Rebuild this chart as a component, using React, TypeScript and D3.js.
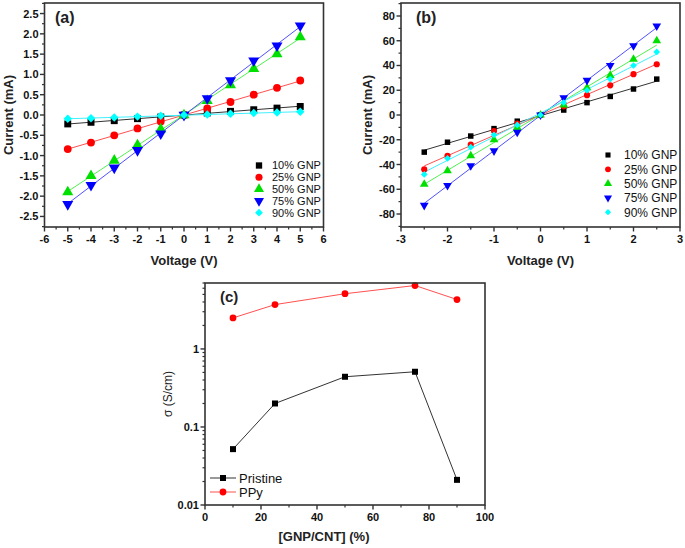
import React from "react";
import * as d3 from "d3";

// panel (a): I-V, pristine
const voltA = [-5, -4, -3, -2, -1, 0, 1, 2, 3, 4, 5];
const a10 = [-0.22, -0.18, -0.14, -0.09, -0.05, 0, 0.05, 0.09, 0.13, 0.17, 0.21];
const a25 = [-0.84, -0.68, -0.5, -0.33, -0.16, 0, 0.16, 0.32, 0.5, 0.67, 0.85];
const a50 = [-1.9, -1.5, -1.12, -0.74, -0.35, 0, 0.35, 0.74, 1.14, 1.5, 1.92];
const a75 = [-2.2, -1.73, -1.3, -0.87, -0.46, 0, 0.41, 0.85, 1.34, 1.71, 2.2];
const a90 = [-0.09, -0.08, -0.06, -0.04, -0.02, 0, 0.01, 0.03, 0.05, 0.06, 0.08];

// panel (b): I-V, PPy coated
const voltB = [-2.5, -2, -1.5, -1, -0.5, 0, 0.5, 1, 1.5, 2, 2.5];
const b10 = [-30, -22, -17, -11, -5, 0, 4, 10, 15, 21, 29];
const b25 = [-44, -33, -24, -13, -7, 0, 7, 16, 24, 33, 41];
const b50 = [-56, -45, -33, -20, -10, 0, 8, 22, 32, 45, 60];
const b75 = [-73, -57, -41, -29, -14, 0, 14, 28, 40, 56, 72];
const b90 = [-48, -35, -26, -16, -8, 0, 10, 20, 29, 40, 51];

const seriesNames = ["10% GNP", "25% GNP", "50% GNP", "75% GNP", "90% GNP"];
const seriesColors = ["#000000", "#ff0000", "#00e000", "#0000ff", "#00ffff"];
const lineColors = ["#333333", "#ff5050", "#50f050", "#5050ff", "#40f0ff"];

// panel (c): conductivity
const ratio = [10, 25, 50, 75, 90];
const pristine = [0.052, 0.2, 0.44, 0.51, 0.021];
const ppy = [2.5, 3.7, 5.1, 6.5, 4.3];

const xTicksA = d3.range(-6, 7, 1);
const yTicksA = [-2.5, -2, -1.5, -1, -0.5, 0, 0.5, 1, 1.5, 2, 2.5];
const xTicksB = [-3, -2, -1, 0, 1, 2, 3];
const yTicksB = [-80, -60, -40, -20, 0, 20, 40, 60, 80];
const xTicksC = [0, 20, 40, 60, 80, 100];
const yTicksC = [0.01, 0.1, 1];

const FONT = "'Liberation Sans', Arial, sans-serif";
const FRAME = "#333";

const shapes = ["square", "circle", "up", "down", "diamond"];

function Marker({ shape, x, y, size, color }: any) {
  let sym: any = d3.symbolSquare;
  let rot = 0;
  if (shape === "circle") sym = d3.symbolCircle;
  if (shape === "up") sym = d3.symbolTriangle;
  if (shape === "down") { sym = d3.symbolTriangle; rot = 180; }
  if (shape === "diamond") { sym = d3.symbolSquare; rot = 45; }
  const s = shape === "up" || shape === "down" ? size * 1.1 : shape === "diamond" ? size * 0.75 : size;
  const path = d3.symbol().type(sym).size(s)() as string;
  return <path d={path} fill={color} transform={`translate(${x},${y}) rotate(${rot})`} />;
}

function fit(xs: number[], ys: number[]) {
  const mx = d3.mean(xs) as number;
  const my = d3.mean(ys) as number;
  const num = d3.sum(xs, (v, i) => (v - mx) * (ys[i] - my));
  const den = d3.sum(xs, (v) => (v - mx) * (v - mx));
  const k = num / den;
  return (v: number) => my + k * (v - mx);
}

function Frame({ x0, x1, y0, y1 }: any) {
  return <rect x={x0} y={y0} width={x1 - x0} height={y1 - y0} fill="none" stroke={FRAME} strokeWidth={1.6} />;
}

function LinearAxes({ x, y, xt, yt, xMinor, yMinor, fmtY, fmtX }: any) {
  const [x0, x1] = x.range();
  const [y1, y0] = y.range();
  return (
    <g fontFamily={FONT} fontWeight="bold" fontSize={11} fill="#111">
      {xMinor.map((v: number) => (
        <line key={"xm" + v} x1={x(v)} x2={x(v)} y1={y1} y2={y1 + 2.5} stroke={FRAME} strokeWidth={1.2} />
      ))}
      {xt.map((v: number) => (
        <g key={"x" + v}>
          <line x1={x(v)} x2={x(v)} y1={y1} y2={y1 + 4.5} stroke={FRAME} strokeWidth={1.4} />
          <text x={x(v)} y={y1 + 16} textAnchor="middle">{fmtX(v)}</text>
        </g>
      ))}
      {yMinor.map((v: number) => (
        <line key={"ym" + v} x1={x0} x2={x0 - 2.5} y1={y(v)} y2={y(v)} stroke={FRAME} strokeWidth={1.2} />
      ))}
      {yt.map((v: number) => (
        <g key={"y" + v}>
          <line x1={x0} x2={x0 - 4.5} y1={y(v)} y2={y(v)} stroke={FRAME} strokeWidth={1.4} />
          <text x={x0 - 6} y={y(v) + 4} textAnchor="end">{fmtY(v)}</text>
        </g>
      ))}
      <Frame x0={x0} x1={x1} y0={y0} y1={y1} />
    </g>
  );
}

function IVPanel({ x, y, volt, data, size, legend, label, labelPos, xt, yt, xMinor, yMinor, fmtY, yTitleX }: any) {
  const [x0, x1] = x.range();
  const [y1, y0] = y.range();
  return (
    <g>
      {data.map((ys: number[], i: number) => {
        const f = fit(volt, ys);
        const a = volt[0];
        const b = volt[volt.length - 1];
        return (
          <line key={"l" + i} x1={x(a)} y1={y(f(a))} x2={x(b)} y2={y(f(b))} stroke={lineColors[i]} strokeWidth={1} />
        );
      })}
      {data.map((ys: number[], i: number) =>
        ys.map((v, j) => (
          <Marker key={i + "-" + j} shape={shapes[i]} x={x(volt[j])} y={y(v)} size={size} color={seriesColors[i]} />
        ))
      )}
      <LinearAxes x={x} y={y} xt={xt} yt={yt} xMinor={xMinor} yMinor={yMinor} fmtY={fmtY} fmtX={(v: number) => String(v)} />
      <text x={labelPos[0]} y={labelPos[1]} fontFamily={FONT} fontWeight="bold" fontSize={16} fill="#222">{label}</text>
      <text x={(x0 + x1) / 2} y={265} textAnchor="middle" fontFamily={FONT} fontWeight="bold" fontSize={13} fill="#222">Voltage (V)</text>
      <text transform={`translate(${yTitleX},${(y0 + y1) / 2}) rotate(-90)`} textAnchor="middle" fontFamily={FONT} fontWeight="bold" fontSize={13} fill="#222">Current (mA)</text>
      <g fontFamily={FONT} fontSize={legend.fs} fill="#111">
        {seriesNames.map((n, i) => (
          <g key={n}>
            <Marker shape={shapes[i]} x={legend.mx} y={legend.y + i * legend.dy} size={legend.ms} color={seriesColors[i]} />
            <text x={legend.tx} y={legend.y + i * legend.dy + legend.fs * 0.36}>{n}</text>
          </g>
        ))}
      </g>
    </g>
  );
}

export default function App() {
  const xA = d3.scaleLinear().domain([-6, 6]).range([44.5, 323.5]);
  const yA = d3.scaleLinear().domain([-2.76, 2.76]).range([227, 3]);
  const xB = d3.scaleLinear().domain([-3, 3]).range([401, 680]);
  const yB = d3.scaleLinear().domain([-90.5, 90.5]).range([227, 3]);
  const xC = d3.scaleLinear().domain([0, 100]).range([205, 485]);
  const yC = d3.scaleLog().domain([0.01, 7]).range([505, 283]);

  const cMinorY: number[] = [];
  [0.01, 0.1, 1].forEach((d) => {
    for (let k = 2; k <= 9; k++) if (d * k <= 7) cMinorY.push(d * k);
  });
  const lineC = d3.line<number>().x((_, i) => xC(ratio[i])).y((v) => yC(v));

  return (
    <svg width={685} height={548} style={{ position: "absolute", left: 0, top: 0, background: "#fff" }}>
      <IVPanel
        x={xA} y={yA} volt={voltA} data={[a10, a25, a50, a75, a90]} size={48}
        legend={{ mx: 259, tx: 272, y: 165.5, dy: 11.8, fs: 11, ms: 40 }}
        label="(a)" labelPos={[55, 23]}
        xt={xTicksA} yt={yTicksA}
        xMinor={d3.range(-5.5, 6, 1)} yMinor={d3.range(-2.75, 2.8, 0.5)}
        fmtY={(v: number) => v.toFixed(1)} yTitleX={13}
      />
      <IVPanel
        x={xB} y={yB} volt={voltB} data={[b10, b25, b50, b75, b90]} size={30}
        legend={{ mx: 608, tx: 624, y: 155, dy: 14.3, fs: 12, ms: 26 }}
        label="(b)" labelPos={[416, 23]}
        xt={xTicksB} yt={yTicksB}
        xMinor={d3.range(-2.5, 3, 1)} yMinor={d3.range(-90, 91, 20)}
        fmtY={(v: number) => String(v)} yTitleX={372}
      />

      {/* panel (c) */}
      <path d={lineC(pristine) as string} fill="none" stroke="#333" strokeWidth={1} />
      <path d={lineC(ppy) as string} fill="none" stroke="#ff5050" strokeWidth={1} />
      {pristine.map((v, i) => (
        <Marker key={"p" + i} shape="square" x={xC(ratio[i])} y={yC(v)} size={36} color="#000" />
      ))}
      {ppy.map((v, i) => (
        <Marker key={"q" + i} shape="circle" x={xC(ratio[i])} y={yC(v)} size={36} color="#ff0000" />
      ))}
      <g fontFamily={FONT} fontWeight="bold" fontSize={11} fill="#111">
        {d3.range(10, 100, 20).map((v) => (
          <line key={"cxm" + v} x1={xC(v)} x2={xC(v)} y1={505} y2={507.5} stroke={FRAME} strokeWidth={1.2} />
        ))}
        {xTicksC.map((v) => (
          <g key={"cx" + v}>
            <line x1={xC(v)} x2={xC(v)} y1={505} y2={509.5} stroke={FRAME} strokeWidth={1.4} />
            <text x={xC(v)} y={521} textAnchor="middle">{v}</text>
          </g>
        ))}
        {cMinorY.map((v) => (
          <line key={"cym" + v} x1={205} x2={202.5} y1={yC(v)} y2={yC(v)} stroke={FRAME} strokeWidth={1.2} />
        ))}
        {yTicksC.map((v) => (
          <g key={"cy" + v}>
            <line x1={205} x2={200.5} y1={yC(v)} y2={yC(v)} stroke={FRAME} strokeWidth={1.4} />
            <text x={199} y={yC(v) + 4} textAnchor="end">{String(v)}</text>
          </g>
        ))}
        <Frame x0={205} x1={485} y0={283} y1={505} />
      </g>
      <text x={220} y={302} fontFamily={FONT} fontWeight="bold" fontSize={15} fill="#222">(c)</text>
      <text x={324} y={541} textAnchor="middle" fontFamily={FONT} fontWeight="bold" fontSize={13} fill="#222">[GNP/CNT] (%)</text>
      <text transform="translate(172,394) rotate(-90)" textAnchor="middle" fontFamily={FONT} fontSize={12} fill="#222">σ (S/cm)</text>
      <g fontFamily={FONT} fontSize={13} fill="#111">
        <line x1={210} x2={236} y1={478} y2={478} stroke="#333" strokeWidth={1} />
        <Marker shape="square" x={223} y={478} size={36} color="#000" />
        <text x={239} y={482.5}>Pristine</text>
        <line x1={210} x2={236} y1={492} y2={492} stroke="#ff5050" strokeWidth={1} />
        <Marker shape="circle" x={223} y={492} size={36} color="#ff0000" />
        <text x={239} y={496.5}>PPy</text>
      </g>
    </svg>
  );
}
